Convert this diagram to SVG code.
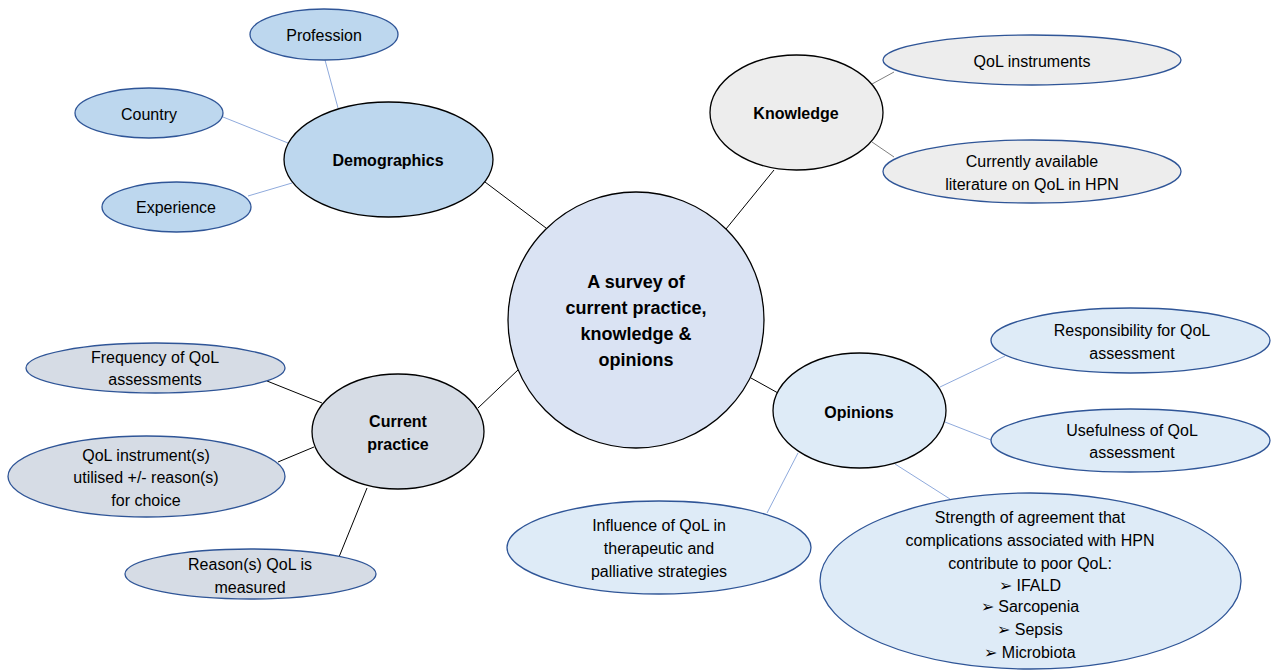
<svg xmlns="http://www.w3.org/2000/svg" width="1272" height="671" viewBox="0 0 1272 671">
  <style>
    text { font-family: "Liberation Sans", Arial, sans-serif; font-size: 16px; fill: #000; text-anchor: middle; }
    .b { font-weight: bold; }
    .hub { stroke: #000; stroke-width: 1.3; }
    .leaf { stroke: #2f5597; stroke-width: 1.3; }
    .blue { fill: #bdd7ee; }
    .grey { fill: #ededed; }
    .slate { fill: #d6dce5; }
    .pale { fill: #dae3f3; }
    .paler { fill: #deebf7; }
    .c-black { stroke: #000; stroke-width: 1; }
    .c-blue { stroke: #8faadc; stroke-width: 1; }
    .c-grey { stroke: #808080; stroke-width: 1; }
  </style>

  <g id="connectors" fill="none">
    <!-- hub to centre -->
    <line class="c-black" x1="485" y1="182" x2="546" y2="228"/>
    <line class="c-black" x1="774" y1="170" x2="726" y2="229"/>
    <line class="c-black" x1="478" y1="408" x2="519" y2="369"/>
    <line class="c-black" x1="751" y1="378" x2="778" y2="393"/>
    <!-- demographics -->
    <line class="c-blue" x1="325" y1="60" x2="338" y2="108"/>
    <line class="c-blue" x1="223" y1="117" x2="288" y2="143"/>
    <line class="c-blue" x1="248" y1="196" x2="292" y2="183"/>
    <!-- knowledge -->
    <line class="c-grey" x1="872" y1="84" x2="894" y2="72"/>
    <line class="c-grey" x1="872" y1="142" x2="894" y2="157"/>
    <!-- current practice -->
    <line class="c-black" x1="267" y1="381" x2="322" y2="403"/>
    <line class="c-black" x1="278" y1="462" x2="314" y2="447"/>
    <line class="c-black" x1="339" y1="557" x2="367" y2="488"/>
    <!-- opinions -->
    <line class="c-blue" x1="940" y1="387" x2="1005" y2="356"/>
    <line class="c-blue" x1="945" y1="422" x2="991" y2="440"/>
    <line class="c-blue" x1="895" y1="464" x2="950" y2="499"/>
    <line class="c-blue" x1="798" y1="453" x2="767" y2="513"/>
  </g>

  <g id="centre">
    <ellipse class="hub pale" cx="636" cy="320" rx="128" ry="128"/>
    <text class="b" style="font-size:18px" x="636" y="288">A survey of</text>
    <text class="b" style="font-size:18px" x="636" y="314">current practice,</text>
    <text class="b" style="font-size:18px" x="636" y="340">knowledge &amp;</text>
    <text class="b" style="font-size:18px" x="636" y="366">opinions</text>
  </g>

  <g id="demographics">
    <ellipse class="hub blue" cx="388.5" cy="159.5" rx="104.5" ry="57.5"/>
    <text class="b" x="388" y="166">Demographics</text>
  </g>
  <g id="profession">
    <ellipse class="leaf blue" cx="324" cy="34.5" rx="74" ry="25.5"/>
    <text x="324" y="41">Profession</text>
  </g>
  <g id="country">
    <ellipse class="leaf blue" cx="149" cy="113" rx="74" ry="25"/>
    <text x="149" y="120">Country</text>
  </g>
  <g id="experience">
    <ellipse class="leaf blue" cx="176.5" cy="207" rx="74.5" ry="25"/>
    <text x="176" y="213">Experience</text>
  </g>

  <g id="knowledge">
    <ellipse class="hub grey" cx="796.5" cy="112.5" rx="86.5" ry="57.5"/>
    <text class="b" x="796" y="119">Knowledge</text>
  </g>
  <g id="qol-instruments">
    <ellipse class="leaf grey" cx="1032" cy="60" rx="149" ry="25"/>
    <text x="1032" y="67">QoL instruments</text>
  </g>
  <g id="literature">
    <ellipse class="leaf grey" cx="1032" cy="171.5" rx="149" ry="31.5"/>
    <text x="1032" y="167">Currently available</text>
    <text x="1032" y="190">literature on QoL in HPN</text>
  </g>

  <g id="current-practice">
    <ellipse class="hub slate" cx="398" cy="431.5" rx="86" ry="57.5"/>
    <text class="b" x="398" y="427">Current</text>
    <text class="b" x="398" y="450">practice</text>
  </g>
  <g id="frequency">
    <ellipse class="leaf slate" cx="155.5" cy="368" rx="129.5" ry="25"/>
    <text x="155" y="363">Frequency of QoL</text>
    <text x="155" y="385">assessments</text>
  </g>
  <g id="instruments-used">
    <ellipse class="leaf slate" cx="146.5" cy="476.5" rx="138.5" ry="40.5"/>
    <text x="146" y="461">QoL instrument(s)</text>
    <text x="146" y="483">utilised +/- reason(s)</text>
    <text x="146" y="506">for choice</text>
  </g>
  <g id="reasons">
    <ellipse class="leaf slate" cx="250.5" cy="574" rx="125.5" ry="25"/>
    <text x="250" y="570">Reason(s) QoL is</text>
    <text x="250" y="593">measured</text>
  </g>

  <g id="opinions">
    <ellipse class="hub paler" cx="859.5" cy="410.5" rx="86.5" ry="57.5"/>
    <text class="b" x="859" y="418">Opinions</text>
  </g>
  <g id="responsibility">
    <ellipse class="leaf paler" cx="1130.5" cy="340.5" rx="139.5" ry="32.5"/>
    <text x="1132" y="336">Responsibility for QoL</text>
    <text x="1132" y="359">assessment</text>
  </g>
  <g id="usefulness">
    <ellipse class="leaf paler" cx="1130.5" cy="440.5" rx="139.5" ry="31.5"/>
    <text x="1132" y="436">Usefulness of QoL</text>
    <text x="1132" y="458">assessment</text>
  </g>
  <g id="influence">
    <ellipse class="leaf paler" cx="659" cy="547.5" rx="152" ry="46.5"/>
    <text x="659" y="531">Influence of QoL in</text>
    <text x="659" y="554">therapeutic and</text>
    <text x="659" y="577">palliative strategies</text>
  </g>
  <g id="complications">
    <ellipse class="leaf paler" cx="1030.5" cy="581" rx="210.5" ry="88"/>
    <text x="1030" y="523">Strength of agreement that</text>
    <text x="1030" y="546">complications associated with HPN</text>
    <text x="1030" y="569">contribute to poor QoL:</text>
    <text x="1030" y="591">➢ IFALD</text>
    <text x="1030" y="612">➢ Sarcopenia</text>
    <text x="1030" y="635">➢ Sepsis</text>
    <text x="1030" y="658">➢ Microbiota</text>
  </g>
</svg>
